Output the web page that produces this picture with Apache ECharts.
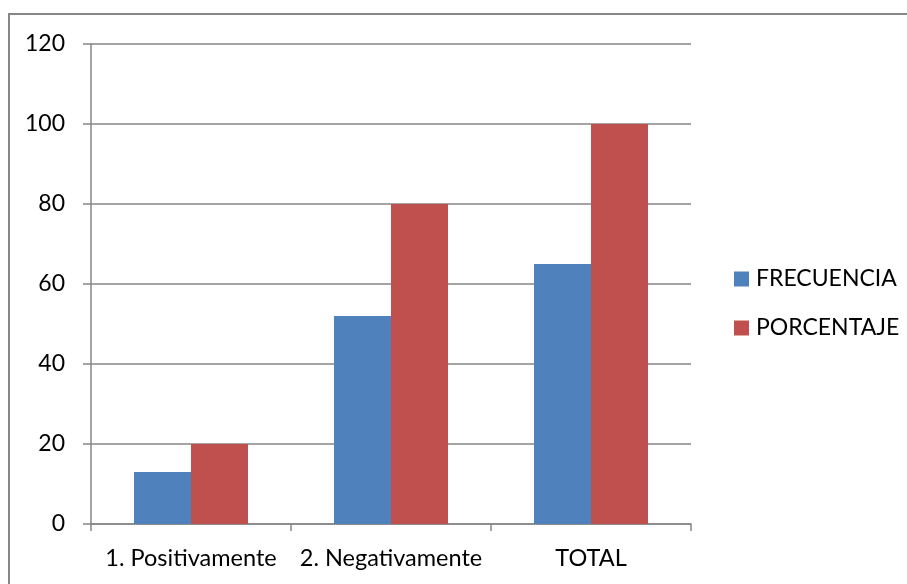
<!DOCTYPE html>
<html>
<head>
<meta charset="utf-8">
<script src="https://cdn.jsdelivr.net/npm/echarts@6/dist/echarts.min.js"></script>
<style>html,body{margin:0;padding:0;background:#fff;}#c{width:907px;height:584px;}</style>
</head>
<body>
<div id="c"></div>
<script>
const categories = ['1. Positivamente', '2. Negativamente', 'TOTAL'];
const frecuencia = [13, 52, 65];
const porcentaje = [20, 80, 100];
const seriesNames = ['FRECUENCIA', 'PORCENTAJE'];

const chart = echarts.init(document.getElementById('c'), null, {renderer: 'canvas'});
const FONT = 'Lato';
const GRAY = '#868686';
chart.setOption({
  backgroundColor: '#ffffff',
  animation: false,
  graphic: [{
    type: 'rect',
    shape: {x: 9, y: 14, width: 1000, height: 1000},
    style: {fill: 'none', stroke: GRAY, lineWidth: 2},
    silent: true
  }],
  grid: {left: 91, right: 216, top: 44, bottom: 60, containLabel: false},
  legend: {
    orient: 'vertical',
    left: 729,
    top: 262,
    itemWidth: 15,
    itemHeight: 15,
    itemGap: 25,
    icon: 'rect',
    textStyle: {fontFamily: FONT, fontSize: 23, color: '#000', lineHeight: 24, padding: [0, 0, 0, 2]},
    data: seriesNames
  },
  xAxis: {
    type: 'category',
    data: categories,
    axisLine: {lineStyle: {color: GRAY, width: 1.5}},
    axisTick: {show: true, length: 7, lineStyle: {color: GRAY, width: 1.5}},
    axisLabel: {fontFamily: FONT, fontSize: 23.5, color: '#000', margin: 22, interval: 0}
  },
  yAxis: {
    type: 'value',
    min: 0, max: 120, interval: 20,
    axisLine: {show: true, lineStyle: {color: GRAY, width: 1.5}},
    axisTick: {show: true, length: 8, inside: false, lineStyle: {color: GRAY, width: 1.5}},
    splitLine: {show: true, lineStyle: {color: GRAY, width: 1.5}},
    axisLabel: {fontFamily: FONT, fontSize: 23, color: '#000', margin: 26}
  },
  series: [
    {name: seriesNames[0], type: 'bar', data: frecuencia, barWidth: 57, barGap: '0%', itemStyle: {color: '#4F81BD'}},
    {name: seriesNames[1], type: 'bar', data: porcentaje, barWidth: 57, barGap: '0%', itemStyle: {color: '#C0504D'}}
  ]
});
</script>
</body>
</html>
